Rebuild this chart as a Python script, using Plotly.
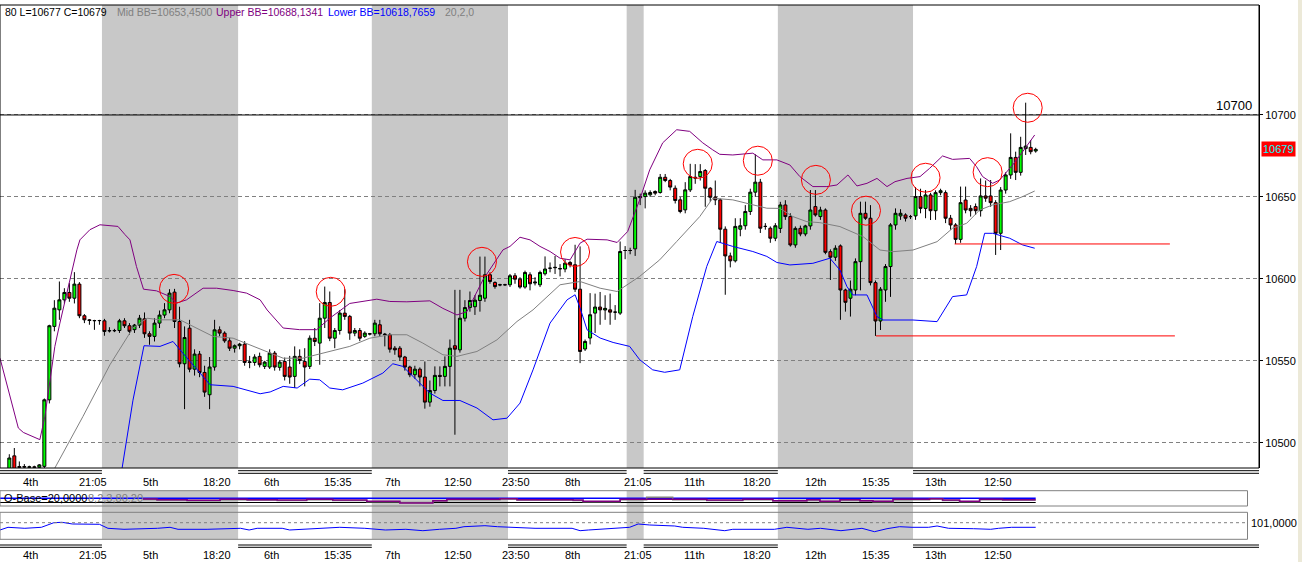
import plotly.graph_objects as go

W, H = 1302, 562
FONT = "Liberation Sans"

# ---------------- data ----------------
candle_idx = list(range(1, 207))
opens = [10478, 10492, 10485.5, 10485.5, 10485, 10485.3, 10485, 10485.6, 10526.2, 10571,
         10581.1, 10587.2, 10591.7, 10588.2, 10596.8, 10577.5, 10575, 10574.6, 10574.5, 10574.4,
         10568.5, 10568.3, 10568.5, 10574.4, 10571.4, 10569, 10571.8, 10575.6, 10566.5, 10564.9,
         10573, 10577.9, 10581.1, 10591.9, 10574, 10548.2, 10569.9, 10544.9, 10554.1, 10542.9,
         10529.3, 10546.2, 10568.9, 10566.9, 10562.2, 10557.7, 10559.2, 10560.2, 10549, 10549,
         10552.7, 10546.6, 10546.2, 10554.7, 10546, 10549.6, 10546.2, 10540.5, 10552.7, 10549.6,
         10546.6, 10563.8, 10560.8, 10576, 10585.6, 10563.8, 10568.5, 10579.1, 10577.1, 10566.9,
         10568.5, 10564.9, 10566.3, 10566.5, 10572, 10566.3, 10565.9, 10557.7, 10557.7, 10552.3,
         10546.2, 10541.5, 10544.9, 10540.1, 10524.8, 10531.9, 10541.1, 10540.5, 10546.6, 10559.2,
         10556.7, 10576, 10582.5, 10583, 10586.8, 10588.2, 10602.5, 10597.8, 10596.3, 10596.4,
         10596.4, 10601.9, 10599.8, 10595, 10602.5, 10597.5, 10596.4, 10603.1, 10606.5, 10606.8,
         10606, 10606, 10610, 10608.6, 10593.7, 10557.2, 10563.9, 10579.1, 10582.8, 10581,
         10581.1, 10579.7, 10579.1, 10617.3, 10617.3, 10618.3, 10649.5, 10650.2, 10651.3, 10653.3,
         10652.7, 10662, 10660, 10655.3, 10648.2, 10642.1, 10654.3, 10662, 10662.4, 10666.1,
         10655.3, 10649.8, 10648.2, 10630.3, 10614, 10611, 10630.3, 10632.4, 10641.1, 10652.9,
         10659, 10632, 10630.9, 10624.8, 10630.8, 10645.1, 10638, 10620.7, 10630.8, 10627.4,
         10632.3, 10644.1, 10638, 10642, 10616.6, 10613.2, 10620.1, 10593.2, 10588.2, 10593.2,
         10610.5, 10640, 10637, 10597.7, 10574.3, 10593.2, 10607.5, 10632.9, 10638.4, 10639,
         10638, 10638.4, 10650.2, 10643, 10651.2, 10641.6, 10652.6, 10652.6, 10637, 10632.9,
         10624.1, 10648.1, 10643, 10644.1, 10641.6, 10650.6, 10650.6, 10646.5, 10627.8, 10654.2,
         10663.4, 10674.1, 10665, 10679.5, 10680.2, 10678]
highs = [10493, 10496.8, 10488.6, 10487, 10486, 10486, 10487, 10527, 10572, 10587,
         10598.4, 10594.3, 10597.4, 10604.1, 10598, 10578.5, 10575.5, 10575, 10575, 10575.6,
         10570.5, 10569.5, 10575.6, 10576, 10573, 10572.5, 10578, 10579.5, 10568, 10576,
         10580.7, 10585.2, 10593.7, 10593.9, 10583, 10571, 10575, 10557, 10556, 10547,
         10552.3, 10575, 10571, 10568, 10564, 10560, 10561, 10562, 10553, 10554,
         10555, 10550, 10557, 10556, 10550.5, 10552, 10553, 10558.8, 10557, 10557.7,
         10565.5, 10570, 10585.2, 10595.3, 10592.3, 10570, 10581, 10593.7, 10578, 10570,
         10570, 10568, 10567, 10575, 10575, 10567, 10567, 10559, 10559, 10553,
         10547, 10547, 10546, 10549.6, 10538, 10546.6, 10546.6, 10552.7, 10563, 10593.3,
         10593.3, 10587, 10592.3, 10590, 10613.6, 10613.6, 10604, 10598.5, 10597, 10597,
         10603, 10603.5, 10601, 10605, 10604, 10601, 10605, 10613.7, 10610, 10614,
         10609, 10612, 10611, 10620.8, 10619.8, 10563, 10591.3, 10591, 10592, 10590,
         10591, 10584, 10622.8, 10620, 10619, 10654.3, 10652, 10654, 10654, 10654,
         10664, 10664, 10661, 10657, 10650, 10659, 10670.2, 10670, 10670, 10667,
         10656, 10660, 10649, 10632, 10616, 10637, 10637, 10645, 10655, 10676,
         10661, 10634, 10632, 10634, 10647, 10648, 10640, 10632, 10632.5, 10633,
         10654.2, 10654.2, 10644, 10643, 10618, 10620.5, 10621, 10594, 10599, 10612.5,
         10647.1, 10647.1, 10645, 10599, 10595, 10609, 10634, 10643, 10642.5, 10640,
         10639, 10656, 10655, 10654.2, 10652.5, 10654, 10655, 10654, 10639, 10634,
         10656.3, 10656.3, 10645, 10646, 10661.3, 10660, 10660.3, 10648, 10656, 10665,
         10688.8, 10677.6, 10686.7, 10707.5, 10684.7, 10680]
lows = [10470, 10474, 10484, 10484.5, 10484, 10484, 10484, 10484, 10524, 10568,
        10575, 10585, 10586, 10585, 10576, 10573, 10572, 10568.9, 10572, 10565.3,
        10567.3, 10567.5, 10567, 10570, 10566, 10567, 10570, 10564, 10559.8, 10561.8,
        10570, 10576, 10579, 10570, 10546, 10520.5, 10543, 10541, 10540, 10528,
        10520.5, 10544, 10565, 10561, 10556, 10555, 10557, 10547, 10545.5, 10547,
        10546, 10545, 10545, 10544, 10544, 10538, 10536, 10533.4, 10548, 10534.4,
        10545, 10559, 10547.6, 10570, 10562, 10557.7, 10566, 10575, 10562.8, 10565,
        10562, 10564, 10565.5, 10565, 10565, 10558.8, 10555, 10553.7, 10550, 10544,
        10540, 10539, 10534.4, 10520.8, 10522, 10530, 10534.4, 10534.4, 10534.4, 10504.9,
        10555, 10574, 10580, 10578, 10580, 10586, 10597, 10594, 10595.5, 10595.8,
        10595, 10597, 10594, 10594, 10593, 10596, 10595, 10602, 10604, 10603,
        10601.5, 10604, 10607, 10592, 10548.6, 10556, 10560, 10567, 10572, 10575,
        10572, 10575, 10578, 10612, 10615, 10614, 10645, 10643, 10650, 10651,
        10652, 10659, 10654, 10646, 10640, 10640, 10653, 10658, 10660, 10644,
        10647, 10645, 10622, 10590.3, 10607, 10610, 10626, 10630, 10639, 10650,
        10628, 10630, 10622, 10623, 10628, 10636, 10619.7, 10619, 10626, 10626,
        10630, 10638, 10636, 10615, 10599.3, 10611, 10575, 10580, 10577, 10590,
        10593, 10636, 10596, 10565.2, 10568.8, 10586, 10589, 10630, 10636, 10635,
        10636.5, 10636, 10640, 10637, 10635.9, 10636, 10651, 10634, 10630, 10621.3,
        10622, 10640, 10638, 10639, 10638, 10647, 10644, 10614.6, 10617.6, 10652,
        10661, 10660.3, 10663, 10675.6, 10676, 10677]
closes = [10490.7, 10480, 10485, 10485.2, 10485.3, 10485, 10486.5, 10526.2, 10571.4, 10582.1,
          10587.2, 10591.7, 10588.2, 10596.8, 10577.5, 10575, 10574.6, 10574.5, 10574.6, 10567.9,
          10568.3, 10568.5, 10574.4, 10571.4, 10568, 10571.8, 10576, 10566.5, 10564.9, 10573,
          10577.9, 10581.1, 10591.3, 10574, 10548.2, 10564.2, 10544.9, 10554.1, 10542.9, 10530.9,
          10546.2, 10568.9, 10566.9, 10562.2, 10557.7, 10559.2, 10560.2, 10549, 10549.3, 10552.3,
          10547.6, 10549.2, 10554.7, 10546.2, 10549.2, 10540.5, 10540.1, 10552.7, 10550.2, 10546.2,
          10563.8, 10561.8, 10576, 10585.6, 10563.8, 10568.5, 10579.1, 10577.1, 10566.9, 10568.5,
          10563.8, 10566.9, 10566.5, 10573, 10566.5, 10566, 10557.1, 10556.7, 10552.3, 10546.2,
          10541.5, 10544.9, 10540.1, 10524.8, 10531.9, 10541.1, 10540.5, 10546.6, 10557.7, 10557.1,
          10576, 10582.5, 10586.8, 10587, 10590, 10602.5, 10598.4, 10595.3, 10596.4, 10596.4,
          10601.9, 10599.8, 10595, 10603.9, 10597, 10598, 10603.9, 10606, 10606.5, 10607,
          10606.3, 10609.6, 10608.6, 10593.7, 10555.7, 10561.8, 10578.1, 10582.8, 10581.1, 10582,
          10579.7, 10579.7, 10616.7, 10617.3, 10617.3, 10649.8, 10650.2, 10652.3, 10652.7, 10652.3,
          10662, 10660, 10656, 10647.8, 10641.1, 10654.3, 10662.4, 10661.5, 10665.5, 10655.3,
          10649.8, 10648.2, 10630.3, 10614, 10611, 10632, 10632.4, 10641.1, 10652.9, 10659,
          10630.9, 10632, 10624.8, 10632.4, 10645.1, 10638, 10620.7, 10630.8, 10627.4, 10632.3,
          10642, 10639, 10642, 10616.2, 10613.2, 10618.7, 10593.2, 10585.7, 10593.7, 10610.5,
          10640, 10637, 10597.7, 10574.3, 10593.7, 10607.5, 10632.9, 10640, 10640, 10637,
          10638, 10650.2, 10643, 10651.2, 10641.6, 10652.6, 10653.8, 10637, 10632.9, 10624.1,
          10646.5, 10642, 10641.6, 10641.6, 10650.6, 10649.2, 10646.5, 10627.8, 10654.2, 10663.4,
          10674.1, 10665, 10680.2, 10681, 10677.6, 10679]

# Bollinger bands (traced vertices: candle index, price)
upper_x = [-0.86, 1.1, 2.8, 3.8, 6.5, 7.1, 8.1, 9.1, 10.1, 11.1, 12.5, 13.5, 14.5, 15.1, 17.1, 19.1,
           22.7, 24.1, 25.1, 26.4, 27.8, 30.4, 33.1, 34.4, 36.4, 39.7, 42.4, 45.7, 48.4, 51.1, 52.5,
           55.7, 59.0, 62.4, 65.0, 69.0, 74.4, 77.0, 80.4, 85.0, 87.6, 90.4, 92.4, 95.6, 99.6, 101.0,
           103.0, 105.0, 107.0, 109.0, 111.0, 113.0, 115.0, 116.4, 120.4, 122.4, 124.5, 126.9, 128.9,
           131.5, 134.3, 136.9, 139.5, 141.5, 142.9, 145.5, 149.5, 151.5, 154.3, 156.9, 158.9, 161.5,
           164.3, 166.3, 168.5, 170.3, 172.3, 174.3, 176.3, 177.9, 180.3, 182.9, 184.8, 187.4, 189.4,
           192.8, 194.2, 195.4, 197.4, 198.8, 201.4, 203.4, 205.8]
upper_y = [10551.6, 10528.3, 10509, 10506.3, 10502.9, 10501.9, 10516, 10538.4, 10558.8, 10573, 10591.3,
           10605.5, 10617.7, 10623.8, 10630, 10633, 10632, 10627, 10623.8, 10607.5, 10593.7, 10592.7,
           10589.2, 10585.2, 10587.2, 10594.3, 10594.3, 10592.9, 10591.3, 10587.2, 10581, 10570, 10569,
           10569, 10576, 10585, 10587.6, 10586.2, 10586, 10586.6, 10582, 10578, 10580, 10599.4, 10617.7,
           10619.8, 10625.4, 10623.8, 10619.8, 10616.7, 10612.6, 10611.6, 10621.8, 10624.2, 10623.8,
           10622.2, 10628.9, 10648.2, 10666.5, 10683, 10691, 10690, 10683, 10678.7, 10676, 10675.6,
           10676.7, 10672.6, 10672.6, 10669.5, 10662.4, 10656.3, 10656.3, 10657.3, 10663.4, 10656.7,
           10658.3, 10661.3, 10656.3, 10659.3, 10661.3, 10662.4, 10667.4, 10675, 10672.9, 10673.5,
           10668.4, 10662.4, 10658.3, 10660.3, 10669.5, 10677.6, 10687.8]
mid_x = [9.1, 10.1, 15.7, 21.1, 25.7, 28.5, 31.1, 35.1, 37.7, 41.7, 45.7, 49.1, 53.1, 55.7, 59.6, 63.6,
         69.0, 73.0, 77.0, 80.4, 83.6, 87.6, 90.4, 94.4, 98.4, 102.4, 105.6, 111.0, 115.0, 119.0, 122.4,
         126.9, 130.9, 134.3, 138.9, 141.5, 145.5, 149.5, 152.3, 154.9, 157.5, 160.3, 162.9, 166.9,
         171.5, 174.9, 177.5, 181.5, 186.3, 189.4, 192.2, 194.8, 197.4, 200.8, 203.4, 205.8]
mid_y = [10476, 10484.6, 10516, 10547.6, 10570, 10576, 10575, 10575, 10571, 10564.9, 10563.8, 10559.8,
         10554.7, 10551.6, 10551.6, 10554.7, 10558.8, 10563.8, 10565.9, 10565.9, 10560.8, 10553.7,
         10552.7, 10555.7, 10562.8, 10574, 10581.1, 10596.4, 10598.4, 10594.3, 10592.3, 10601.5,
         10611.6, 10622.8, 10638, 10649.2, 10648.2, 10645.2, 10643.1, 10643, 10638, 10634.9, 10634.3,
         10631.9, 10625.8, 10617.6, 10616.6, 10617.6, 10622.7, 10630.9, 10633.9, 10642, 10645.1,
         10647.1, 10650.2, 10653.6]
lower_x = [23.1, 23.5, 25.7, 27.1, 27.9, 31.1, 33.7, 35.1, 39.1, 41.1, 45.7, 51.1, 53.1, 55.7, 58.5,
           61.0, 63.0, 65.0, 67.6, 71.6, 75.6, 77.6, 79.6, 82.4, 85.0, 87.6, 91.0, 94.4, 97.6, 100.4,
           103.0, 105.6, 109.0, 112.4, 114.0, 115.0, 116.4, 119.0, 121.6, 124.9, 126.9, 129.5, 131.9,
           134.9, 137.5, 140.3, 142.3, 145.5, 149.5, 152.3, 154.3, 156.9, 161.5, 164.9, 166.9, 168.3,
           169.5, 172.3, 174.3, 175.5, 181.5, 186.3, 188.2, 189.4, 192.2, 194.2, 195.8, 197.4, 200.8,
           203.4, 205.8]
lower_y = [10478, 10484, 10526, 10548.6, 10559.2, 10558.8, 10561.8, 10556.7, 10542.5, 10535.4, 10534.4,
           10529.9, 10531, 10534.4, 10533.4, 10538.8, 10538.4, 10533.4, 10532.3, 10536.4, 10542.5,
           10548.2, 10546.6, 10538.4, 10530.3, 10525.8, 10525.8, 10521.2, 10514, 10515, 10524.2,
           10544.5, 10573, 10587.2, 10590.3, 10582.2, 10568.9, 10563.9, 10561.2, 10558.8, 10550.7,
           10544.5, 10543, 10544.5, 10577, 10607.6, 10622.8, 10619.8, 10616.7, 10613.7, 10610, 10608.5,
           10609.5, 10612.6, 10605.4, 10595.3, 10590.2, 10590.2, 10577, 10574.9, 10574.9, 10573.9,
           10583.1, 10589.2, 10590.2, 10607.5, 10627.8, 10627.8, 10624.8, 10620.7, 10618.7]

# session shading (candle index ranges)
shade_start = [19.5, 73.4, 124.3, 154.5]
shade_end = [46.7, 100.6, 127.7, 181.5]

# time axis labels
tick_pos = [5.3, 17.7, 29.2, 42.4, 53.4, 66.6, 77.5, 90.6, 102.2, 113.4, 126.6, 137.9, 150.3, 162.0,
            174.2, 186.0, 198.5]
tick_text = ["4th", "21:05", "5th", "18:20", "6th", "15:35", "7th", "12:50", "23:50", "8th", "21:05",
             "11th", "18:20", "12th", "15:35", "13th", "12:50"]
price_ticks = [10500, 10550, 10600, 10650, 10700]

# annotations drawn on the chart
circle_x = [33.9, 65.2, 95.4, 114.0, 138.5, 150.5, 162.1, 172.1, 184.0, 196.4, 204.4]
circle_y = [10593.9, 10592.1, 10610.4, 10616.4, 10670.2, 10672.1, 10660.4, 10641.6, 10661.7, 10665.1, 10704.4]
level_y = [10621.3, 10565.2]
level_x0 = [189.8, 174.1]
level_x1 = [232.8, 233.8]
round_level = 10700
last_close = 10679

# header texts (as visible in the chart window)
header_parts = ["80 L=10677 C=10679", "Mid BB=10653,4500", "Upper BB=10688,1341", "Lower BB=10618,7659", "20,2,0"]
header_colors = ["black", "#808080", "#800080", "#0000FF", "#808080"]

# lower indicator 1 (stochastic-like, step segments)
p1_x = [27.7, 30.5, 36.5, 43.1, 48.5, 54.5, 60.4, 65.6, 72.4, 79.0, 85.6, 88.4, 99.0, 102.4, 113.6, 115.6,
        123.0, 128.3, 133.5, 140.3, 147.5, 153.5, 160.3, 162.9, 166.9, 170.9, 173.5, 177.5, 184.8, 187.4,
        190.8, 194.8, 199.4, 206.0]
p1_purple = [70, 60, 51, 66, 60, 55, 66, 55, 37, 13, 46, 66, 74, 60, 55, 37, 66, 66, 66, 55, 66, 46, 60,
             37, 60, 46, 37, 66, 74, 55, 37, 66, 60, 60]
p1_gray = [64, 55, 46, 60, 55, 50, 60, 50, 30, 20, 40, 60, 70, 55, 50, 30, 60, 94, 60, 50, 60, 40, 55, 30,
           55, 40, 30, 60, 70, 50, 30, 60, 55, 55]
p1_levels = [80, 20]

# lower indicator 2
p2_x = [-0.86, 0.74, 4.1, 7.4, 9.9, 11.5, 13.6, 19.0, 20.7, 23.9, 30.6, 33.1, 34.7, 40.5, 47.2, 48.9, 50.5,
        55.5, 57.0, 62.0, 67.0, 72.0, 76.1, 80.2, 83.6, 86.9, 90.2, 91.8, 96.0, 98.5, 101.8, 106.0, 113.4,
        115.0, 116.7, 121.7, 124.9, 126.6, 128.9, 133.9, 135.5, 139.7, 143.9, 145.5, 153.8, 156.3, 160.5,
        163.0, 167.1, 171.3, 173.8, 176.3, 178.8, 181.3, 184.6, 186.3, 188.6, 193.6, 197.0, 198.6, 201.2,
        206.0]
p2_y = [100.27, 100.54, 100.44, 100.54, 101.0, 101.04, 100.87, 100.84, 100.44, 100.34, 100.44, 100.54,
        100.34, 100.34, 100.44, 100.27, 100.44, 100.44, 100.27, 100.44, 100.54, 100.44, 100.27, 100.34,
        100.2, 100.34, 100.44, 100.6, 100.7, 100.6, 100.54, 100.44, 100.44, 100.2, 100.27, 100.44, 100.54,
        100.87, 100.77, 100.67, 100.54, 100.44, 100.2, 100.34, 100.34, 100.54, 100.34, 100.44, 100.2,
        100.44, 100.1, 100.4, 100.6, 100.54, 100.54, 100.67, 100.44, 100.4, 100.34, 100.44, 100.54, 100.54]
p2_level = 101.0

# ---------------- geometry ----------------
X_MIN, X_MAX = -0.86, 250.6
Y_MIN, Y_MAX = 10484.6, 10767.1


def fx(px):
    return px / W


def fy(py):
    return 1 - py / H


MAIN_TOP, MAIN_BOT, PLOT_R = 5, 468, 1259
P1_TOP, P1_BOT = 490.7, 506.0
P2_TOP, P2_BOT = 512.3, 539.3
PANE_R = 1247.5

fig = go.Figure()

fig.add_trace(go.Candlestick(
    x=candle_idx, open=opens, high=highs, low=lows, close=closes,
    increasing=dict(fillcolor="#00FF00", line=dict(color="black", width=1)),
    decreasing=dict(fillcolor="#FF0000", line=dict(color="black", width=1)),
    whiskerwidth=0, showlegend=False, hoverinfo="skip", xaxis="x", yaxis="y"))

for bx, by, col in [(upper_x, upper_y, "#800080"), (mid_x, mid_y, "#808080"), (lower_x, lower_y, "#0000FF")]:
    fig.add_trace(go.Scatter(x=bx, y=by, mode="lines", line=dict(color=col, width=1),
                             showlegend=False, hoverinfo="skip", xaxis="x", yaxis="y"))

# pane 1
fig.add_trace(go.Scatter(x=[X_MIN, candle_idx[-1]], y=[p1_levels[0]] * 2, mode="lines",
                         line=dict(color="#0000FF", width=1.5), showlegend=False, hoverinfo="skip",
                         xaxis="x", yaxis="y2"))
fig.add_trace(go.Scatter(x=[X_MIN, candle_idx[-1]], y=[p1_levels[1]] * 2, mode="lines",
                         line=dict(color="black", width=1), showlegend=False, hoverinfo="skip",
                         xaxis="x", yaxis="y2"))
fig.add_trace(go.Scatter(x=p1_x, y=p1_gray, mode="lines", line=dict(color="#808080", width=1.5, shape="hv"),
                         showlegend=False, hoverinfo="skip", xaxis="x", yaxis="y2"))
fig.add_trace(go.Scatter(x=p1_x, y=p1_purple, mode="lines", line=dict(color="#800080", width=1.5, shape="hv"),
                         showlegend=False, hoverinfo="skip", xaxis="x", yaxis="y2"))

# pane 2
fig.add_trace(go.Scatter(x=p2_x, y=p2_y, mode="lines", line=dict(color="#0000FF", width=1),
                         showlegend=False, hoverinfo="skip", xaxis="x", yaxis="y3"))

shapes = []
# beige strip at right edge
shapes.append(dict(type="rect", xref="paper", yref="paper", x0=fx(1298), x1=1, y0=0, y1=1,
                   fillcolor="#ECE9D8", line=dict(width=0), layer="below"))
# session shading
for s, e in zip(shade_start, shade_end):
    shapes.append(dict(type="rect", xref="x", yref="paper", x0=s, x1=e, y0=fy(MAIN_BOT), y1=fy(MAIN_TOP),
                       fillcolor="#C8C8C8", line=dict(width=0), layer="below"))
    shapes.append(dict(type="rect", xref="x", yref="paper", x0=s, x1=e, y0=fy(P2_BOT), y1=fy(P1_TOP),
                       fillcolor="#C8C8C8", line=dict(width=0), layer="below"))
# double separator lines over unshaded spans
gaps = list(zip([X_MIN] + shade_end, shade_start + [X_MAX]))
for a, b in gaps:
    for py in (470.7, 473.3, 545.0, 547.3):
        shapes.append(dict(type="line", xref="x", yref="paper", x0=a, x1=b, y0=fy(py), y1=fy(py),
                           line=dict(color="black", width=1)))
# main border
shapes.append(dict(type="rect", xref="paper", yref="paper", x0=0, x1=fx(PLOT_R), y0=fy(MAIN_BOT),
                   y1=fy(MAIN_TOP), line=dict(color="black", width=1)))
# pane boxes
for t, b in ((P1_TOP, P1_BOT), (P2_TOP, P2_BOT)):
    shapes.append(dict(type="rect", xref="paper", yref="paper", x0=0, x1=fx(PANE_R), y0=fy(b), y1=fy(t),
                       line=dict(color="#808080", width=1)))
# pane 2 level
shapes.append(dict(type="line", xref="paper", yref="y3", x0=0, x1=fx(PANE_R), y0=p2_level, y1=p2_level,
                   line=dict(color="#808080", width=1, dash="3px,3px")))
# round number line
shapes.append(dict(type="line", xref="paper", yref="y", x0=0, x1=fx(PLOT_R), y0=round_level, y1=round_level,
                   line=dict(color="black", width=1)))
# red support lines
for yv, a, b in zip(level_y, level_x0, level_x1):
    shapes.append(dict(type="line", xref="x", yref="y", x0=a, x1=b, y0=yv, y1=yv,
                       line=dict(color="#FF0000", width=1)))
# red circles
RX, RY = 2.9, 8.85
for cx, cy in zip(circle_x, circle_y):
    shapes.append(dict(type="circle", xref="x", yref="y", x0=cx - RX, x1=cx + RX, y0=cy - RY, y1=cy + RY,
                       line=dict(color="#FF0000", width=1)))

ann = []
# header
for px, txt, col in zip([3, 115, 214, 326, 443], header_parts, header_colors):
    ann.append(dict(xref="paper", yref="paper", x=fx(px), y=fy(12), xanchor="left", yanchor="middle",
                    text=txt, showarrow=False, font=dict(size=10.5, color=col, family=FONT)))
# time labels, two rows
for row_y in (481.7, 555.0):
    for p, t in zip(tick_pos, tick_text):
        ann.append(dict(xref="x", yref="paper", x=p, y=fy(row_y), xanchor="center", yanchor="middle",
                        text=t, showarrow=False, font=dict(size=11, color="black", family=FONT)))
# round number text
ann.append(dict(xref="paper", yref="y", x=fx(1254), y=round_level, xanchor="right", yanchor="bottom",
                text=str(round_level), showarrow=False, font=dict(size=13, color="black", family=FONT)))
# last price tag
ann.append(dict(xref="paper", yref="y", x=fx(1261), y=last_close + 0.5, xanchor="left", yanchor="middle",
                text=str(last_close), showarrow=False, bgcolor="#FF0000", borderpad=1,
                font=dict(size=11, color="#00FFFF", family=FONT)))
# pane labels
ann.append(dict(xref="paper", yref="paper", x=fx(2), y=fy(498), xanchor="left", yanchor="middle",
                text="O-Base=20,0000", showarrow=False, font=dict(size=11, color="black", family=FONT)))
ann.append(dict(xref="paper", yref="paper", x=fx(86), y=fy(498), xanchor="left", yanchor="middle",
                text="8,2,3,80,20", showarrow=False, font=dict(size=11, color="#808080", family=FONT)))
ann.append(dict(xref="paper", yref="y3", x=fx(1249), y=p2_level, xanchor="left", yanchor="middle",
                text="101,0000", showarrow=False, font=dict(size=11, color="black", family=FONT)))

fig.update_layout(
    width=W, height=H, autosize=False,
    margin=dict(l=0, r=0, t=0, b=0, pad=0),
    paper_bgcolor="white", plot_bgcolor="white",
    font=dict(family=FONT, size=11, color="black"),
    boxgap=0.15,
    showlegend=False,
    xaxis=dict(domain=[0, fx(PLOT_R)], range=[X_MIN, X_MAX], visible=False, fixedrange=True,
               rangeslider=dict(visible=False), anchor="y"),
    yaxis=dict(domain=[fy(MAIN_BOT), fy(MAIN_TOP)], range=[Y_MIN, Y_MAX], side="right", anchor="x",
               tickvals=price_ticks, ticktext=[str(v) for v in price_ticks],
               ticks="outside", ticklen=3, tickcolor="black", showline=True, linecolor="black",
               showgrid=True, gridcolor="#808080", griddash="4px,3px", gridwidth=1, zeroline=False,
               tickfont=dict(size=11, color="black", family=FONT), fixedrange=True),
    yaxis2=dict(domain=[fy(P1_BOT), fy(P1_TOP)], range=[-30.1, 188.7], visible=False, anchor="x",
                fixedrange=True),
    yaxis3=dict(domain=[fy(P2_BOT), fy(P2_TOP)], range=[99.34, 102.04], visible=False, anchor="x",
                fixedrange=True),
    shapes=shapes,
    annotations=ann,
)

fig.write_html(
    "out.html",
    config={"displayModeBar": False},
    post_script="document.body.style.margin='0';document.body.style.padding='0';"
                "document.body.style.overflow='hidden';",
)
